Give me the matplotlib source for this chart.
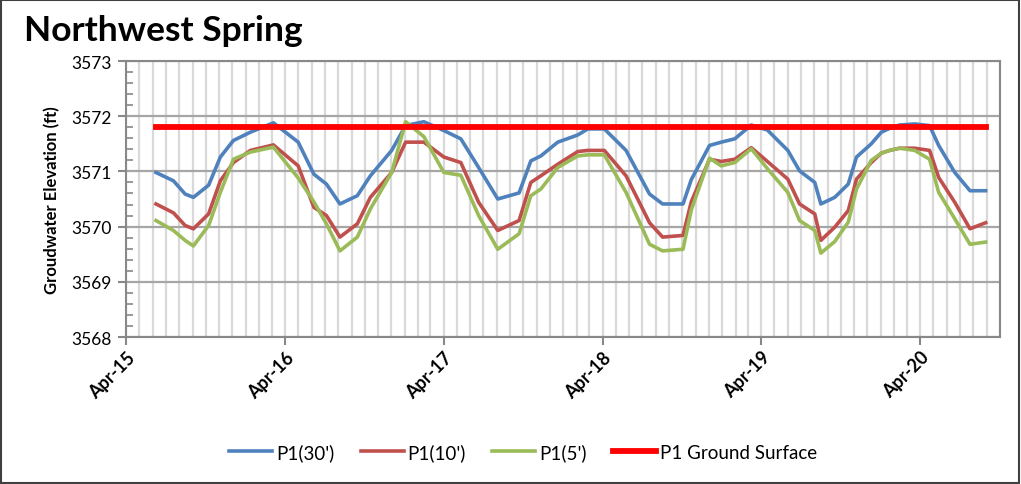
import matplotlib
matplotlib.use("Agg")
import matplotlib.pyplot as plt
import matplotlib.dates as mdates
import numpy as np
import pandas as pd
from matplotlib.patches import Rectangle

plt.rcParams['font.family'] = ['Lato', 'DejaVu Sans']

dates = ["2015-06-09", "2015-07-19", "2015-08-15", "2015-09-03", "2015-10-08", "2015-11-04",
         "2015-12-04", "2016-01-12", "2016-03-05", "2016-05-01", "2016-06-06", "2016-07-05",
         "2016-08-05", "2016-09-14", "2016-10-14", "2016-12-02", "2017-01-03", "2017-02-14",
         "2017-04-01", "2017-05-10", "2017-06-20", "2017-08-03", "2017-09-21", "2017-10-18",
         "2017-11-10", "2017-12-19", "2018-02-03", "2018-02-26", "2018-04-05", "2018-05-25",
         "2018-07-18", "2018-08-17", "2018-10-03", "2018-10-22", "2018-12-03", "2018-12-30",
         "2019-01-30", "2019-03-09", "2019-04-15", "2019-06-01", "2019-06-28", "2019-08-02",
         "2019-08-16", "2019-09-17", "2019-10-18", "2019-11-06", "2019-12-10", "2020-01-02",
         "2020-01-21", "2020-02-13", "2020-03-19", "2020-04-22", "2020-05-13", "2020-06-19",
         "2020-07-24", "2020-08-29"]

p1_30 = [3570.98, 3570.83, 3570.59, 3570.53, 3570.75, 3571.26, 3571.56, 3571.71, 3571.88, 3571.53,
         3570.95, 3570.77, 3570.41, 3570.56, 3570.92, 3571.38, 3571.83, 3571.90, 3571.74, 3571.59,
         3571.07, 3570.50, 3570.61, 3571.19, 3571.28, 3571.53, 3571.66, 3571.77, 3571.77, 3571.38,
         3570.59, 3570.41, 3570.41, 3570.85, 3571.47, 3571.53, 3571.59, 3571.84, 3571.75, 3571.38,
         3571.01, 3570.80, 3570.41, 3570.53, 3570.77, 3571.26, 3571.50, 3571.71, 3571.78, 3571.84,
         3571.86, 3571.83, 3571.47, 3570.98, 3570.65, 3570.65]

p1_10 = [3570.41, 3570.25, 3570.02, 3569.96, 3570.23, 3570.83, 3571.16, 3571.38, 3571.48, 3571.10,
         3570.35, 3570.20, 3569.81, 3570.05, 3570.53, 3570.98, 3571.53, 3571.53, 3571.26, 3571.16,
         3570.44, 3569.93, 3570.11, 3570.80, 3570.92, 3571.13, 3571.36, 3571.38, 3571.38, 3570.92,
         3570.07, 3569.81, 3569.84, 3570.45, 3571.22, 3571.18, 3571.22, 3571.43, 3571.18, 3570.86,
         3570.41, 3570.23, 3569.75, 3569.99, 3570.29, 3570.86, 3571.16, 3571.33, 3571.38, 3571.42,
         3571.42, 3571.38, 3570.89, 3570.44, 3569.96, 3570.07]

p1_5 = [3570.11, 3569.93, 3569.75, 3569.65, 3570.02, 3570.62, 3571.22, 3571.35, 3571.44, 3570.88,
        3570.45, 3570.05, 3569.56, 3569.81, 3570.32, 3570.98, 3571.90, 3571.63, 3570.98, 3570.93,
        3570.20, 3569.59, 3569.87, 3570.56, 3570.68, 3571.07, 3571.28, 3571.30, 3571.30, 3570.62,
        3569.68, 3569.56, 3569.59, 3570.30, 3571.24, 3571.10, 3571.16, 3571.41, 3571.05, 3570.62,
        3570.11, 3569.93, 3569.52, 3569.73, 3570.08, 3570.68, 3571.20, 3571.33, 3571.38, 3571.42,
        3571.38, 3571.22, 3570.62, 3570.14, 3569.68, 3569.72]

ground_surface = 3571.8

series_labels = ["P1(30')", "P1(10')", "P1(5')", "P1 Ground Surface"]
title = "Northwest Spring"
ylabel = "Groudwater Elevation (ft)"

d = pd.to_datetime(dates)

fig = plt.figure(figsize=(10.21, 4.85), dpi=100)
ax = fig.add_axes([126/1021, 1 - 338/485, (1000-126)/1021, (338-62)/485])

ax.plot(d, p1_30, color="#4F81BD", lw=2.6, label=series_labels[0], zorder=3)
ax.plot(d, p1_10, color="#C0504D", lw=2.6, label=series_labels[1], zorder=3)
ax.plot(d, p1_5, color="#9BBB59", lw=2.6, label=series_labels[2], zorder=3)
ax.plot([d[0], d[-1]], [ground_surface, ground_surface], color="#FF0000", lw=4.2,
        label=series_labels[3], zorder=4)

ax.set_xlim(pd.Timestamp("2015-04-01"), pd.Timestamp("2020-10-01"))
ax.set_ylim(3568, 3573)

ax.xaxis.set_major_locator(mdates.MonthLocator(bymonth=4, bymonthday=1))
ax.xaxis.set_major_formatter(mdates.DateFormatter("%b-%y"))
ax.xaxis.set_minor_locator(mdates.MonthLocator(bymonthday=1))
ax.yaxis.set_major_locator(matplotlib.ticker.MultipleLocator(1))
ax.yaxis.set_minor_locator(matplotlib.ticker.MultipleLocator(0.2))

ax.grid(which="minor", axis="x", color="#D9D9D9", lw=1.6, zorder=0)
ax.grid(which="major", axis="x", color="#D9D9D9", lw=1.6, zorder=0)
ax.grid(which="major", axis="y", color="#A6A6A6", lw=1.6, zorder=1)
ax.set_axisbelow(True)

for s in ax.spines.values():
    s.set_color("#888888")
    s.set_linewidth(1.5)

ax.tick_params(axis="x", which="major", length=6, width=1.5, color="#888888",
               direction="out", labelsize=13, pad=2)
ax.tick_params(axis="x", which="minor", length=0)
ax.tick_params(axis="y", which="major", length=6, width=1.5, color="#888888",
               direction="out", labelsize=12.5, pad=4)
ax.tick_params(axis="y", which="minor", length=5, width=1.2, color="#888888",
               direction="in")

for lab in ax.get_xticklabels():
    lab.set_rotation(45)
    lab.set_ha("right")
    lab.set_rotation_mode("anchor")
    lab.set_fontweight("bold")

ax.set_ylabel(ylabel, fontsize=12, fontweight="bold", labelpad=8)

fig.text(24/1021, 1 - 31/485, title, fontsize=25.5, fontweight="bold", va="center", ha="left")

leg = fig.legend(loc="center", bbox_to_anchor=(523/1021, 1 - 453/485), ncol=4, frameon=False,
                 fontsize=13.5, handlelength=2.3, handletextpad=0.2, columnspacing=1.4)

fig.add_artist(Rectangle((0.001, 0.002), 0.997, 0.996, transform=fig.transFigure,
                         fill=False, edgecolor="#404040", lw=1.5))

fig.savefig("out.png", dpi=100)
